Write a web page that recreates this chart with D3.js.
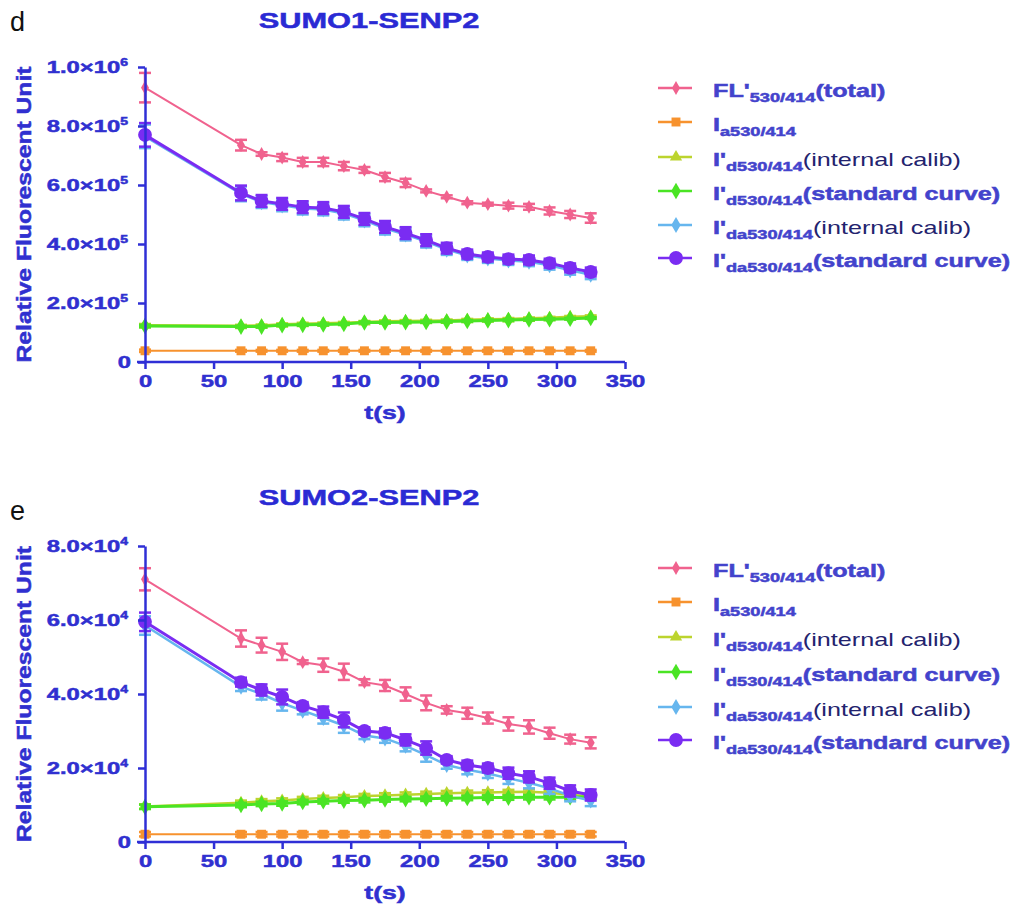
<!DOCTYPE html>
<html>
<head>
<meta charset="utf-8">
<script src="https://cdn.jsdelivr.net/npm/d3@7"></script>
<style>
  body { margin: 0; background: #fff; }
  svg { display: block; }
</style>
</head>
<body>
<svg id="fig" width="1021" height="913"></svg>
<script>
// Sampling times (s)
const times = [0, 70, 85, 100, 115, 130, 145, 160, 175, 190, 205, 220, 235, 250, 265, 280, 295, 310, 325];
const xTicks = [0, 50, 100, 150, 200, 250, 300, 350];

// SUMO1-SENP2
const s1Total      = [930000, 735000, 705000, 693000, 678000, 678000, 664000, 651000, 627000, 607000, 580000, 560000, 540000, 535000, 530000, 526000, 512000, 500000, 488000];
const s1TotalErr   = [50000, 18000, 6000, 12000, 14000, 14000, 14000, 10000, 14000, 14000, 5000, 5000, 5000, 5000, 10000, 10000, 12000, 12000, 16000];
const s1Acceptor   = [38000, 38000, 38000, 38000, 38000, 38000, 38000, 38000, 38000, 38000, 38000, 38000, 38000, 38000, 38000, 38000, 38000, 38000, 38000];
const s1DonorInt   = [125000, 123000, 124000, 128000, 130000, 131000, 133000, 136000, 138000, 139000, 140000, 141000, 143000, 145000, 146000, 148000, 150000, 153000, 155000];
const s1DonorStd   = [122000, 120000, 120000, 125000, 126000, 127000, 129000, 134000, 134000, 135000, 136000, 137000, 139000, 141000, 142000, 144000, 145000, 147000, 149000];
const s1DaInt      = [765000, 570000, 542000, 531000, 520000, 517000, 503000, 480000, 452000, 432000, 408000, 381000, 361000, 351000, 344000, 340000, 328000, 311000, 296000];
const s1DaStd      = [770000, 573000, 546000, 536000, 525000, 522000, 509000, 485000, 458000, 437000, 413000, 386000, 366000, 356000, 349000, 346000, 335000, 319000, 305000];
const s1DaErr      = [40000, 25000, 20000, 20000, 20000, 20000, 20000, 20000, 20000, 20000, 20000, 18000, 15000, 15000, 15000, 15000, 15000, 15000, 15000];
const s1SmallErr   = [4000, 3000, 3000, 3000, 3000, 3000, 3000, 3000, 3000, 3000, 3000, 3000, 3000, 3000, 3000, 3000, 3000, 3000, 3000];
const s1YTicks     = [0, 200000, 400000, 600000, 800000, 1000000];

// SUMO2-SENP2
const s2Total      = [71000, 55000, 53200, 51400, 48600, 47800, 46000, 43200, 42300, 40000, 37600, 35700, 34800, 33500, 31900, 31100, 29400, 27800, 26800];
const s2TotalErr   = [3000, 2200, 2000, 2200, 500, 1800, 2200, 800, 1500, 1800, 2000, 1000, 1500, 1500, 1800, 1800, 1500, 1200, 1500];
const s2Acceptor   = [2100, 2100, 2100, 2100, 2100, 2100, 2100, 2100, 2100, 2100, 2100, 2100, 2100, 2100, 2100, 2100, 2100, 2100, 2100];
const s2DonorInt   = [9600, 10600, 11000, 11200, 11600, 11900, 12100, 12400, 12600, 12800, 13000, 13200, 13300, 13400, 13500, 13600, 13300, 12800, 12300];
const s2DonorStd   = [9500, 10000, 10300, 10400, 10800, 11000, 11200, 11300, 11500, 11600, 11700, 11800, 11900, 12000, 12000, 12100, 12100, 12100, 12200];
const s2DaInt      = [58500, 42000, 40000, 37500, 35500, 33500, 31500, 28800, 28000, 26000, 23500, 20800, 19500, 18500, 17200, 16000, 14500, 12500, 11200];
const s2DaStd      = [59500, 43200, 41100, 39200, 36800, 35100, 33000, 30000, 29500, 27600, 25400, 22200, 20800, 20000, 18600, 17600, 15900, 13800, 12700];
const s2DaErr      = [2500, 1200, 1500, 2000, 1000, 1500, 2000, 1000, 1200, 1500, 1800, 1000, 1200, 1200, 1500, 1500, 1500, 1500, 1500];
const s2SmallErr   = [600, 600, 600, 600, 600, 600, 600, 600, 600, 600, 600, 600, 600, 600, 600, 600, 600, 600, 600];
const s2YTicks     = [0, 20000, 40000, 60000, 80000];

// Legend entries: [main, subscript, suffix]
const legendMain   = ["FL'", "I", "I'", "I'", "I'", "I'"];
const legendSub    = ["530/414", "a530/414", "d530/414", "d530/414", "da530/414", "da530/414"];
const legendSuffix = ["(total)", "", "(internal calib)", "(standard curve)", "(internal calib)", "(standard curve)"];

const FONT = '"Liberation Sans", Arial, Helvetica, sans-serif';
const AXIS_COLOR = '#2f2fd6';
const LABEL_COLOR = '#3030d0';
const LEGEND_COLOR = '#4343cc';
const CALIB_COLOR = '#23236e';
const SX = 1.4; // lettering is set wide

const styles = [
  { color: '#f0628e', symbol: d3.symbolDiamond, size: 55, width: 2 },
  { color: '#f7922e', symbol: d3.symbolSquare,  size: 80, width: 2 },
  { color: '#bcd42e', symbol: d3.symbolTriangle, size: 65, width: 2.5 },
  { color: '#4ae424', symbol: d3.symbolDiamond, size: 80, width: 3 },
  { color: '#66b6ee', symbol: d3.symbolDiamond, size: 75, width: 2.5 },
  { color: '#7a2cf2', symbol: d3.symbolCircle,  size: 150, width: 3 }
];

const svg = d3.select('#fig');

// bold lettering gets a thin outline so it reads as heavy as the printed figure
function heavy(sel, color) {
  return sel.attr('stroke', color).attr('stroke-width', 0.5).attr('paint-order', 'stroke');
}

function drawPanel(p) {
  const x = d3.scaleLinear().domain([0, 350]).range([145, 625]);
  const y = d3.scaleLinear().domain([0, p.yMax]).range([p.yZero, p.yTop]);
  const g = svg.append('g');

  // panel letter and title
  g.append('text').attr('x', 10).attr('y', p.letterY)
    .attr('font-family', FONT).attr('font-size', 27).attr('fill', '#111')
    .text(p.letter);
  heavy(g.append('text')
    .attr('transform', `translate(369,${p.titleY}) scale(${SX},1)`)
    .attr('text-anchor', 'middle')
    .attr('font-family', FONT).attr('font-weight', 'bold').attr('font-size', 22)
    .attr('fill', '#2a2ad4')
    .text(p.title), '#2a2ad4');

  // series: error bars, lines, markers
  p.series.forEach((s, i) => {
    const st = styles[i];
    const sg = g.append('g');
    const pts = times.map((t, k) => ({ t, v: s.values[k], e: s.err ? s.err[k] : 0 }));
    const eb = sg.selectAll('g.eb').data(pts).enter().append('g')
      .attr('stroke', st.color).attr('stroke-width', 2.5);
    eb.append('line')
      .attr('x1', d => x(d.t)).attr('x2', d => x(d.t))
      .attr('y1', d => y(d.v - d.e)).attr('y2', d => y(d.v + d.e));
    eb.append('line')
      .attr('x1', d => x(d.t) - 6).attr('x2', d => x(d.t) + 6)
      .attr('y1', d => y(d.v + d.e)).attr('y2', d => y(d.v + d.e));
    eb.append('line')
      .attr('x1', d => x(d.t) - 6).attr('x2', d => x(d.t) + 6)
      .attr('y1', d => y(d.v - d.e)).attr('y2', d => y(d.v - d.e));
    sg.append('path')
      .datum(pts)
      .attr('fill', 'none').attr('stroke', st.color).attr('stroke-width', st.width)
      .attr('d', d3.line().x(d => x(d.t)).y(d => y(d.v)));
    sg.selectAll('path.m').data(pts).enter().append('path')
      .attr('class', 'm')
      .attr('transform', d => `translate(${x(d.t)},${y(d.v)})`)
      .attr('d', d3.symbol().type(st.symbol).size(st.size))
      .attr('fill', st.color);
  });

  // axes
  const xAxis = g.append('g').attr('transform', `translate(0,${p.yZero})`)
    .call(d3.axisBottom(x).tickValues(xTicks).tickSize(7).tickSizeOuter(0).tickPadding(6));
  xAxis.select('.domain').remove();
  xAxis.selectAll('line').attr('stroke', AXIS_COLOR).attr('stroke-width', 2.5);
  heavy(xAxis.selectAll('text')
    .attr('transform', `scale(${SX},1)`)
    .attr('font-family', FONT).attr('font-weight', 'bold').attr('font-size', 17)
    .attr('fill', LABEL_COLOR), LABEL_COLOR);
  g.append('line')
    .attr('x1', 137).attr('x2', x(350))
    .attr('y1', p.yZero).attr('y2', p.yZero)
    .attr('stroke', AXIS_COLOR).attr('stroke-width', 2.5);

  const yAxis = g.append('g').attr('transform', 'translate(145,0)')
    .call(d3.axisLeft(y).tickValues(p.yTicks).tickSize(7).tickSizeOuter(0).tickFormat(''));
  yAxis.select('.domain').attr('stroke', AXIS_COLOR).attr('stroke-width', 2.5);
  yAxis.selectAll('line').attr('stroke', AXIS_COLOR).attr('stroke-width', 2.5);

  // y tick labels in scientific notation (m.0×10^e)
  p.yTicks.forEach(v => {
    const t = heavy(g.append('text')
      .attr('transform', `translate(${v === 0 ? 131 : 128},${y(v) + 6}) scale(${SX},1)`)
      .attr('text-anchor', 'end')
      .attr('font-family', FONT).attr('font-weight', 'bold').attr('font-size', 17)
      .attr('fill', LABEL_COLOR), LABEL_COLOR);
    if (v === 0) { t.text('0'); return; }
    const e = Math.floor(Math.log10(v) + 1e-9);
    const mant = (v / Math.pow(10, e)).toFixed(1);
    t.append('tspan').text(mant + '\u00d710');
    t.append('tspan').attr('font-size', 10).attr('dy', -7).text(String(e));
  });

  // axis titles
  heavy(g.append('text')
    .attr('transform', `translate(385,${p.yZero + 57}) scale(${SX},1)`)
    .attr('text-anchor', 'middle')
    .attr('font-family', FONT).attr('font-weight', 'bold').attr('font-size', 19)
    .attr('fill', LABEL_COLOR).text('t(s)'), LABEL_COLOR);
  heavy(g.append('text')
    .attr('transform', `translate(31,${(p.yTop + p.yZero) / 2}) rotate(-90)`)
    .attr('text-anchor', 'middle')
    .attr('textLength', 296).attr('lengthAdjust', 'spacingAndGlyphs')
    .attr('font-family', FONT).attr('font-weight', 'bold').attr('font-size', 21)
    .attr('fill', LABEL_COLOR).text('Relative Fluorescent Unit'), LABEL_COLOR);

  // legend
  p.legendRows.forEach((ry, i) => {
    const st = styles[i];
    g.append('line').attr('x1', 658).attr('x2', 692).attr('y1', ry).attr('y2', ry)
      .attr('stroke', st.color).attr('stroke-width', 2.5);
    g.append('path').attr('transform', `translate(676,${ry})`)
      .attr('d', d3.symbol().type(st.symbol).size(st.size)).attr('fill', st.color);
    const t = g.append('text')
      .attr('transform', `translate(713,${ry + 9}) scale(${SX},1)`)
      .attr('font-family', FONT).attr('font-weight', 'bold').attr('font-size', 18)
      .attr('fill', LEGEND_COLOR);
    heavy(t.append('tspan').text(legendMain[i]), LEGEND_COLOR);
    heavy(t.append('tspan').attr('font-size', 13).attr('dy', 5).text(legendSub[i]), LEGEND_COLOR);
    if (legendSuffix[i]) {
      const calib = legendSuffix[i].indexOf('internal') >= 0;
      const s = t.append('tspan').attr('font-size', 18).attr('dy', -5)
        .attr('font-weight', calib ? 'normal' : 'bold')
        .attr('fill', calib ? CALIB_COLOR : LEGEND_COLOR)
        .text(legendSuffix[i]);
      if (!calib) heavy(s, LEGEND_COLOR);
    }
  });
}

drawPanel({
  letter: 'd', letterY: 31, title: 'SUMO1-SENP2', titleY: 28,
  yMax: 1000000, yZero: 362, yTop: 67, yTicks: s1YTicks,
  legendRows: [88, 122, 157, 191, 225, 258],
  series: [
    { values: s1Total, err: s1TotalErr },
    { values: s1Acceptor, err: s1SmallErr },
    { values: s1DonorInt, err: s1SmallErr },
    { values: s1DonorStd, err: s1SmallErr },
    { values: s1DaInt, err: s1DaErr },
    { values: s1DaStd, err: s1DaErr }
  ]
});

drawPanel({
  letter: 'e', letterY: 520, title: 'SUMO2-SENP2', titleY: 505,
  yMax: 80000, yZero: 842, yTop: 546, yTicks: s2YTicks,
  legendRows: [568, 602, 637, 672, 707, 740],
  series: [
    { values: s2Total, err: s2TotalErr },
    { values: s2Acceptor, err: s2SmallErr },
    { values: s2DonorInt, err: s2SmallErr },
    { values: s2DonorStd, err: s2SmallErr },
    { values: s2DaInt, err: s2DaErr },
    { values: s2DaStd, err: s2DaErr }
  ]
});
</script>
</body>
</html>
